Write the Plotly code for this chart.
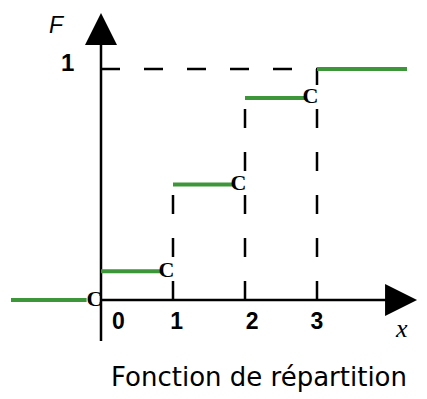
import plotly.graph_objects as go

# loi binomiale n=3, p=1/2 : fonction de répartition
values = [0, 1, 2, 3]
cdf = [0.125, 0.5, 0.875, 1.0]
tick_labels = ["0", "1", "2", "3"]
x_start, x_end = -1.25, 4.25
title = "Fonction de répartition"

GREEN = "rgb(62,150,58)"
X_RANGE = [-101 / 72, 326 / 72]
Y_RANGE = [-99 / 231, 300 / 231]

fig = go.Figure()

# axes drawn by hand (hidden plotly axes)
fig.add_trace(go.Scatter(x=[0, 0], y=[-0.177, 1.15], mode="lines",
                         line=dict(color="black", width=2.5), hoverinfo="skip"))
fig.add_trace(go.Scatter(x=[0, 4.1], y=[0, 0], mode="lines",
                         line=dict(color="black", width=2.5), hoverinfo="skip"))
fig.add_trace(go.Scatter(x=[0], y=[1.242], mode="markers",
                         marker=dict(symbol="arrow-up", size=32, color="black"), hoverinfo="skip"))
fig.add_trace(go.Scatter(x=[4.39], y=[0], mode="markers",
                         marker=dict(symbol="arrow-right", size=32, color="black"), hoverinfo="skip"))

# dashed guides
dx, dy = [0, values[-1]], [cdf[-1], cdf[-1]]
for v, f in zip(values[1:], cdf[1:]):
    dx += [None, v, v]
    dy += [None, 0, f]
fig.add_trace(go.Scatter(x=dx, y=dy, mode="lines",
                         line=dict(color="black", width=2.5, dash="19px,24px"), hoverinfo="skip"))

# steps
sx, sy = [x_start, values[0] - 0.2], [0, 0]
for i, (v, f) in enumerate(zip(values, cdf)):
    end = values[i + 1] - 0.16 if i + 1 < len(values) else x_end
    sx += [None, v, end]
    sy += [None, f, f]
fig.add_trace(go.Scatter(x=sx, y=sy, mode="lines",
                         line=dict(color=GREEN, width=4), hoverinfo="skip"))

# open ends drawn as "C"
left_limits = [0] + cdf[:-1]
fig.add_trace(go.Scatter(x=[v - 0.09 for v in values], y=left_limits, mode="text",
                         text=["<b>C</b>"] * len(values),
                         textfont=dict(family="Liberation Serif", size=22, color="black"),
                         hoverinfo="skip"))

# tick labels
offsets = [0.24, 0.05, 0.1, 0.0]
fig.add_trace(go.Scatter(x=[v + o for v, o in zip(values, offsets)], y=[-0.1] * len(values),
                         mode="text", text=["<b>%s</b>" % t for t in tick_labels],
                         textfont=dict(family="Liberation Sans", size=23, color="black"),
                         hoverinfo="skip"))

fig.add_annotation(x=-0.47, y=1.03, text="<b>1</b>", showarrow=False,
                   font=dict(family="Liberation Sans", size=24, color="black"))
fig.add_annotation(x=-0.61, y=1.19, text="<i>F</i>", showarrow=False,
                   font=dict(family="Liberation Sans", size=23, color="black"))
fig.add_annotation(x=4.18, y=-0.125, text="<i>x</i>", showarrow=False,
                   font=dict(family="Liberation Serif", size=26, color="black"))
fig.add_annotation(x=0.607, y=0.055, xref="paper", yref="paper", xanchor="center", yanchor="middle",
                   text=title, showarrow=False,
                   font=dict(family="DejaVu Sans", size=26, color="black"))

fig.update_layout(
    width=427, height=399,
    margin=dict(l=0, r=0, t=0, b=0),
    paper_bgcolor="white", plot_bgcolor="white",
    showlegend=False,
    xaxis=dict(visible=False, range=X_RANGE, fixedrange=True),
    yaxis=dict(visible=False, range=Y_RANGE, fixedrange=True),
)

fig.write_html("out.html", config={"displayModeBar": False},
               post_script="document.body.style.margin='0';")
